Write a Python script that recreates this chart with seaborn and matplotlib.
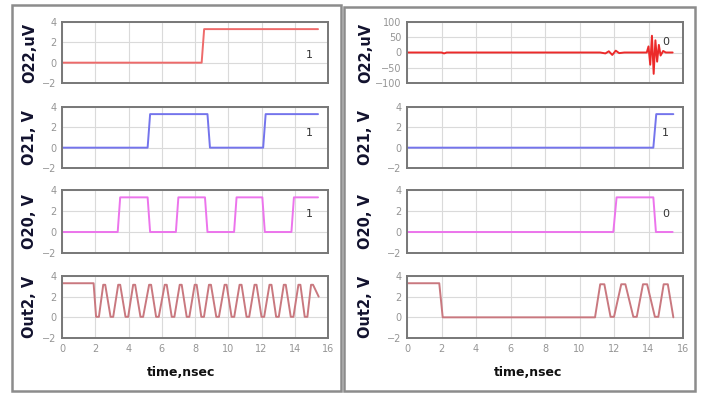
import matplotlib
matplotlib.use("Agg")
import matplotlib.pyplot as plt
from matplotlib.patches import Rectangle
from matplotlib.ticker import MultipleLocator
import seaborn as sns
import pandas as pd

# ---------------- data ----------------
# Left panel
o22_L_t = [0, 8.4, 8.55, 15.4]
o22_L_v = [0, 0, 3.3, 3.3]
o21_L_t = [0, 5.15, 5.3, 8.75, 8.9, 12.1, 12.25, 15.4]
o21_L_v = [0, 0, 3.3, 3.3, 0, 0, 3.3, 3.3]
o20_L_t = [0, 3.35, 3.5, 5.15, 5.3, 6.85, 7.0, 8.6, 8.75, 10.35, 10.5, 12.05, 12.2, 13.8, 13.95, 15.4]
o20_L_v = [0, 0, 3.3, 3.3, 0, 0, 3.3, 3.3, 0, 0, 3.3, 3.3, 0, 0, 3.3, 3.3]
out2_L_t = [0, 1.9,
            2.05, 2.22, 2.48, 2.6, 2.92, 3.08, 3.38, 3.5, 3.82, 3.98, 4.28, 4.4,
            4.72, 4.88, 5.24, 5.36, 5.66, 5.82, 6.18, 6.3, 6.6, 6.76, 7.08, 7.2,
            7.5, 7.66, 7.98, 8.1, 8.38, 8.54, 8.84, 8.96, 9.28, 9.44, 9.78, 9.9,
            10.2, 10.36, 10.68, 10.8, 11.1, 11.26, 11.58, 11.7, 12.0, 12.16, 12.48, 12.6,
            12.88, 13.04, 13.34, 13.46, 13.76, 13.92, 14.22, 14.34, 14.6, 14.76, 14.98, 15.1,
            15.44]
out2_L_v = [3.3, 3.3,
            0.05, 0.05, 3.15, 3.15, 0.05, 0.05, 3.15, 3.15, 0.05, 0.05, 3.15, 3.15,
            0.05, 0.05, 3.15, 3.15, 0.05, 0.05, 3.15, 3.15, 0.05, 0.05, 3.15, 3.15,
            0.05, 0.05, 3.15, 3.15, 0.05, 0.05, 3.15, 3.15, 0.05, 0.05, 3.15, 3.15,
            0.05, 0.05, 3.15, 3.15, 0.05, 0.05, 3.15, 3.15, 0.05, 0.05, 3.15, 3.15,
            0.05, 0.05, 3.15, 3.15, 0.05, 0.05, 3.15, 3.15, 0.05, 0.05, 3.15, 3.15,
            2.0]

# Right panel
o22_R_t = [0, 2.0, 2.15, 2.3, 11.2, 11.5, 11.7, 11.9, 12.1, 12.3, 12.6, 13.9, 14.0, 14.1,
           14.2, 14.3, 14.4, 14.5, 14.6, 14.7, 14.85, 15.0, 15.4]
o22_R_v = [0, 0, -3, 0, 0, -3, 4, -8, 6, -2, 0, 0, 20, -40,
           55, -70, 40, -30, 25, -10, 5, 0, 0]
o21_R_t = [0, 14.28, 14.45, 15.44]
o21_R_v = [0, 0, 3.3, 3.3]
o20_R_t = [0, 11.96, 12.15, 14.28, 14.43, 15.4]
o20_R_v = [0, 0, 3.3, 3.3, 0, 0]
out2_R_t = [0, 1.87, 2.07, 10.9, 11.2, 11.44, 11.8, 12.0, 12.42, 12.66, 13.12, 13.32,
            13.68, 13.92, 14.37, 14.57, 14.88, 15.12, 15.44]
out2_R_v = [3.3, 3.3, 0, 0, 3.2, 3.2, 0.05, 0.05, 3.2, 3.2, 0.05, 0.05,
            3.2, 3.2, 0.05, 0.05, 3.2, 3.2, 0]

ylabels = ["O22,uV", "O21, V", "O20, V", "Out2, V"]
xlabel = "time,nsec"
left_tags = ["1", "1", "1", None]
right_tags = ["0", "1", "0", None]
x_ticks = [0, 2, 4, 6, 8, 10, 12, 14, 16]
v_ticks = [-2, 0, 2, 4]
uv_ticks = [-100, -50, 0, 50, 100]

# ---------------- styling ----------------
sns.set_style("white")
plt.rcParams["font.family"] = ["DejaVu Sans"]

W, H = 704, 393
fig = plt.figure(figsize=(W / 100, H / 100), dpi=100)


def rect(x0, y0, x1, y1):
    return [x0 / W, 1 - y1 / H, (x1 - x0) / W, (y1 - y0) / H]


# panel boxes
for (x0, y0, x1, y1) in [(12, 5, 341, 391), (344, 7, 695, 391)]:
    fig.add_artist(Rectangle((x0 / W, 1 - y1 / H), (x1 - x0) / W, (y1 - y0) / H,
                             transform=fig.transFigure, fill=False,
                             ec="#8c8c8c", lw=1.8))

rows = [(22, 83), (107, 168), (190, 253), (276, 338)]
cols = [(62, 328), (407, 683)]
xlabel_cx = [181.5, 528]

colors_L = ["#ee6a6a", "#7474ec", "#ec74ec", "#c9787f"]
colors_R = ["#ec2a2a", "#7474ec", "#ec74ec", "#c9787f"]

series_L = [(o22_L_t, o22_L_v), (o21_L_t, o21_L_v), (o20_L_t, o20_L_v), (out2_L_t, out2_L_v)]
series_R = [(o22_R_t, o22_R_v), (o21_R_t, o21_R_v), (o20_R_t, o20_R_v), (out2_R_t, out2_R_v)]

tag_y_L = [0.8, 1.4, 1.7]
tag_y_R = [34, 1.4, 1.7]

for ci, (cx0, cx1) in enumerate(cols):
    series = series_L if ci == 0 else series_R
    colors = colors_L if ci == 0 else colors_R
    tags = left_tags if ci == 0 else right_tags
    tag_y = tag_y_L if ci == 0 else tag_y_R
    for ri, (ry0, ry1) in enumerate(rows):
        ax = fig.add_axes(rect(cx0, ry0, cx1, ry1))
        t, v = series[ri]
        df = pd.DataFrame({"t": t, "v": v})
        sns.lineplot(data=df, x="t", y="v", ax=ax, color=colors[ri], lw=1.4,
                     estimator=None, sort=False)
        for ln in ax.lines:
            ln.set_solid_joinstyle("round")
        ax.set_xlim(0, 16)
        ax.set_xticks(x_ticks)
        ax.xaxis.set_minor_locator(MultipleLocator(1))
        uv = (ci == 1 and ri == 0)
        if uv:
            ax.set_ylim(-100, 100)
            ax.set_yticks(uv_ticks)
            ax.yaxis.set_minor_locator(MultipleLocator(25))
        else:
            ax.set_ylim(-2, 4)
            ax.set_yticks(v_ticks)
            ax.yaxis.set_minor_locator(MultipleLocator(1))
        ax.grid(True, which="major", color="#dadada", lw=0.8)
        ax.set_axisbelow(True)
        for s in ax.spines.values():
            s.set_color("#777777")
            s.set_linewidth(1.4)
        ax.tick_params(which="major", direction="inout", length=6, width=1.0,
                       color="#555555", labelsize=7, labelcolor="#959595", pad=1)
        ax.tick_params(which="minor", direction="inout", length=3.5, width=0.9,
                       color="#555555")
        ax.set_ylabel(ylabels[ri], fontsize=10.5, fontweight="bold", color="#12122e")
        off = 25 if ci == 0 else 34
        ax.yaxis.set_label_coords(-off / (cx1 - cx0), 0.5)
        if ri == 3:
            ax.set_xlabel(xlabel, fontsize=9, fontweight="bold", color="#111111")
            ax.xaxis.set_label_coords((xlabel_cx[ci] - cx0) / (cx1 - cx0),
                                      -(366 - ry1) / (ry1 - ry0))
        else:
            ax.set_xlabel("")
            ax.tick_params(axis="x", labelbottom=False)
        if tags[ri] is not None:
            tx = 14.9 if ci == 0 else 15.0
            ax.text(tx, tag_y[ri], tags[ri], fontsize=8, color="#333333",
                    ha="center", va="center")

fig.savefig("out.png", dpi=100)
